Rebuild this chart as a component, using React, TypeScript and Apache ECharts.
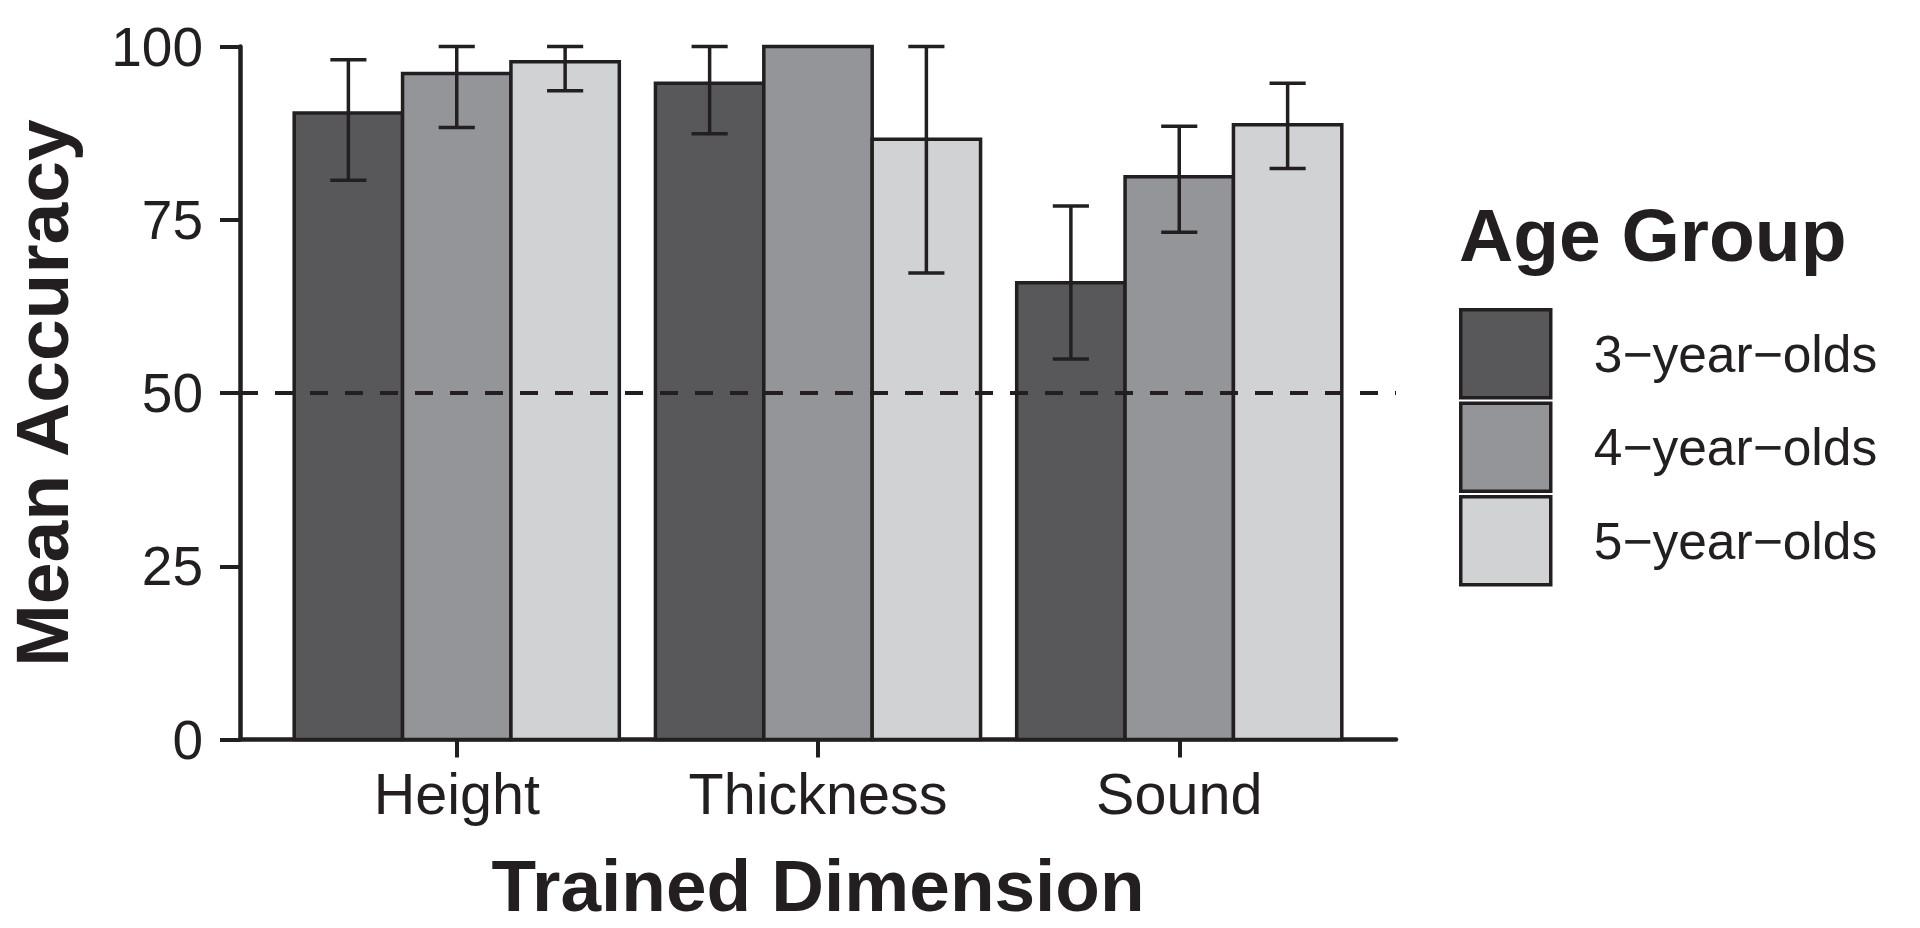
import React, { useEffect, useRef } from 'react';
import * as echarts from 'echarts';

const categories = ['Height', 'Thickness', 'Sound'];
const groupNames = ['3−year−olds', '4−year−olds', '5−year−olds'];

const mean3 = [90.4, 94.7, 65.9];
const lower3 = [80.7, 87.4, 54.9];
const upper3 = [98.1, 100, 77.0];

const mean4 = [96.1, 100, 81.2];
const lower4 = [88.3, 100, 73.2];
const upper4 = [100, 100, 88.5];

const mean5 = [97.8, 86.6, 88.7];
const lower5 = [93.6, 67.3, 82.4];
const upper5 = [100, 100, 94.7];

const chanceLevel = 50;
const yTickValues = [0, 25, 50, 75, 100];

const colors = ['#58585a', '#939598', '#d1d2d4'];
const INK = '#231f20';
const FONT = '"Liberation Sans", Arial, Helvetica, sans-serif';

export default function App() {
  const ref = useRef<HTMLDivElement>(null);

  useEffect(() => {
    if (!ref.current) return;
    const chart = echarts.init(ref.current, null, { renderer: 'svg' });

    const groups = [
      { name: groupNames[0], means: mean3, lower: lower3, upper: upper3 },
      { name: groupNames[1], means: mean4, lower: lower4, upper: upper4 },
      { name: groupNames[2], means: mean5, lower: lower5, upper: upper5 },
    ];
    const BAR = 0.3;
    const CAP = 0.1;

    const barSeries = groups.map((g, k) => ({
      type: 'custom',
      name: g.name,
      z: 2,
      itemStyle: { color: colors[k], borderColor: INK, borderWidth: 3.5 },
      encode: { x: 0, y: [1, 2, 3] },
      data: categories.map((_, i) => [i + 1, g.means[i], g.lower[i], g.upper[i]]),
      renderItem: (params: any, api: any) => {
        const x = api.value(0);
        const m = api.value(1);
        const lo = api.value(2);
        const hi = api.value(3);
        const x0 = x + (k - 1.5) * BAR;
        const x1 = x0 + BAR;
        const xc = x0 + BAR / 2;
        const p0 = api.coord([x0, m]);
        const p1 = api.coord([x1, 0]);
        const children: any[] = [
          {
            type: 'rect',
            shape: { x: p0[0], y: p0[1], width: p1[0] - p0[0], height: p1[1] - p0[1] },
            style: { fill: colors[k], stroke: INK, lineWidth: 3.5 },
          },
        ];
        if (hi > lo) {
          const top = api.coord([xc, hi]);
          const bot = api.coord([xc, lo]);
          const cl = api.coord([xc - CAP / 2, hi])[0];
          const cr = api.coord([xc + CAP / 2, hi])[0];
          const ls = { stroke: INK, lineWidth: 3.5 };
          children.push(
            { type: 'line', shape: { x1: top[0], y1: top[1], x2: bot[0], y2: bot[1] }, style: ls },
            { type: 'line', shape: { x1: cl, y1: top[1], x2: cr, y2: top[1] }, style: ls },
            { type: 'line', shape: { x1: cl, y1: bot[1], x2: cr, y2: bot[1] }, style: ls }
          );
        }
        return { type: 'group', children };
      },
    }));

    const option: any = {
      animation: false,
      backgroundColor: '#ffffff',
      textStyle: { fontFamily: FONT, color: INK },
      grid: { left: 240, top: 46.5, width: 1156, height: 693, containLabel: false, outerBoundsMode: 'none' },
      xAxis: {
        type: 'value',
        min: 0.4,
        max: 3.6,
        name: 'Trained Dimension',
        nameLocation: 'middle',
        nameGap: 116,
        nameTextStyle: { fontSize: 73, lineHeight: 60, fontWeight: 'bold', color: INK, fontFamily: FONT },
        splitLine: { show: false },
        axisLine: { show: true, onZero: false, lineStyle: { color: INK, width: 4.5 } },
        axisTick: { show: true, length: 18, customValues: [1, 2, 3], lineStyle: { color: INK, width: 4 } },
        axisLabel: {
          customValues: [1, 2, 3],
          formatter: (v: number) => categories[Math.round(v) - 1] ?? '',
          fontSize: 57.5,
          color: INK,
          fontFamily: FONT,
          margin: 25,
        },
      },
      yAxis: {
        type: 'value',
        min: 0,
        max: 100,
        interval: 25,
        name: 'Mean Accuracy',
        nameLocation: 'middle',
        nameGap: 161,
        nameTextStyle: { fontSize: 75, fontWeight: 'bold', color: INK, fontFamily: FONT },
        splitLine: { show: false },
        axisLine: { show: true, lineStyle: { color: INK, width: 4.5 } },
        axisTick: { show: true, length: 20, lineStyle: { color: INK, width: 4 } },
        axisLabel: {
          fontSize: 55,
          color: INK,
          fontFamily: FONT,
          margin: 37,
          formatter: (v: number) => (yTickValues.includes(v) ? String(v) : ''),
        },
      },
      legend: {
        orient: 'vertical',
        left: 1459,
        top: 308,
        padding: 0,
        itemWidth: 90,
        itemHeight: 88,
        itemGap: 2,
        icon: 'rect',
        selectedMode: false,
        data: groups.map((g, k) => ({
          name: g.name,
          itemStyle: { color: colors[k], borderColor: INK, borderWidth: 3.5 },
        })),
        textStyle: { fontSize: 51.5, color: INK, fontFamily: FONT, padding: [0, 0, 0, 38] },
      },
      graphic: [
        {
          type: 'text',
          x: 1459,
          y: 235,
          style: {
            text: 'Age Group',
            font: `bold 75px ${FONT}`,
            fill: INK,
            verticalAlign: 'middle',
            align: 'left',
          },
        },
      ],
      series: [
        ...barSeries,
        {
          type: 'line',
          name: 'chance',
          z: 6,
          silent: true,
          symbol: 'none',
          data: [
            [0.4, chanceLevel],
            [3.6, chanceLevel],
          ],
          lineStyle: { color: INK, width: 4, type: [18, 17] },
        },
      ],
    };

    chart.setOption(option);
    return () => chart.dispose();
  }, []);

  return (
    <div
      ref={ref}
      style={{ position: 'fixed', left: 0, top: 0, width: '1920px', height: '928px', background: '#fff' }}
    />
  );
}
